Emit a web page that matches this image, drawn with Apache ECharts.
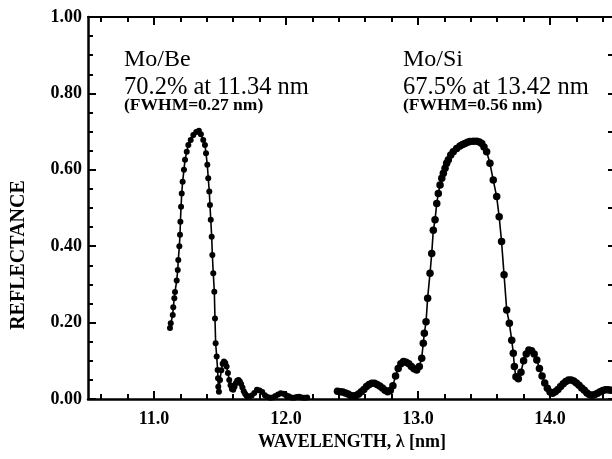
<!DOCTYPE html>
<html>
<head>
<meta charset="utf-8">
<script src="https://cdn.jsdelivr.net/npm/echarts@6/dist/echarts.min.js"></script>
<style>
  html, body { margin: 0; padding: 0; background: #fff; }
  #chart { width: 612px; height: 459px; }
</style>
</head>
<body>
<div id="chart"></div>
<script>
// Measured reflectance of two multilayer mirrors (wavelength in nm, reflectance 0..1)
const moBeWavelength = [
  11.121, 11.127, 11.142, 11.146, 11.154, 11.159, 11.172, 11.180, 11.184, 11.192,
  11.197, 11.200, 11.205, 11.210, 11.217, 11.227, 11.235, 11.248, 11.260, 11.278,
  11.298, 11.320, 11.340, 11.355, 11.373, 11.386, 11.394, 11.404, 11.411, 11.419,
  11.424, 11.430, 11.437, 11.442, 11.449, 11.457, 11.462, 11.467, 11.475, 11.482,
  11.485, 11.487, 11.492, 11.500, 11.510, 11.520, 11.530, 11.540, 11.550, 11.560,
  11.570, 11.580, 11.590, 11.600, 11.610, 11.620, 11.630, 11.640, 11.650, 11.660,
  11.670, 11.680, 11.690, 11.700, 11.710, 11.720, 11.740, 11.760, 11.780, 11.800,
  11.820, 11.840, 11.860, 11.880, 11.900, 11.920, 11.940, 11.960, 11.980, 12.000,
  12.020, 12.040, 12.060, 12.080, 12.100, 12.120, 12.140, 12.160
];
const moBeReflectance = [
  0.186, 0.198, 0.220, 0.240, 0.264, 0.280, 0.310, 0.338, 0.364, 0.400,
  0.430, 0.464, 0.503, 0.538, 0.569, 0.600, 0.626, 0.647, 0.665, 0.678,
  0.691, 0.699, 0.702, 0.693, 0.678, 0.665, 0.643, 0.613, 0.578, 0.543,
  0.508, 0.469, 0.425, 0.377, 0.329, 0.281, 0.211, 0.146, 0.111, 0.076,
  0.054, 0.032, 0.019, 0.050, 0.075, 0.092, 0.098, 0.094, 0.085, 0.068,
  0.050, 0.036, 0.026, 0.024, 0.032, 0.041, 0.048, 0.050, 0.046, 0.039,
  0.030, 0.020, 0.014, 0.009, 0.006, 0.006, 0.009, 0.016, 0.024, 0.022,
  0.018, 0.010, 0.005, 0.003, 0.004, 0.008, 0.012, 0.015, 0.014, 0.010,
  0.007, 0.004, 0.003, 0.005, 0.006, 0.004, 0.003, 0.004
];

const moSiWavelength = [
  12.390, 12.410, 12.430, 12.450, 12.470, 12.490, 12.510, 12.530, 12.550, 12.570,
  12.590, 12.610, 12.630, 12.650, 12.670, 12.690, 12.710, 12.730, 12.750, 12.770,
  12.790, 12.810, 12.830, 12.850, 12.870, 12.890, 12.910, 12.930, 12.950, 12.970,
  12.990, 13.010, 13.028, 13.040, 13.048, 13.061, 13.073, 13.091, 13.104, 13.116,
  13.129, 13.142, 13.154, 13.167, 13.180, 13.192, 13.205, 13.217, 13.230, 13.248,
  13.267, 13.293, 13.318, 13.338, 13.356, 13.375, 13.394, 13.420, 13.445, 13.465,
  13.483, 13.500, 13.520, 13.545, 13.570, 13.596, 13.615, 13.633, 13.652, 13.672,
  13.692, 13.710, 13.722, 13.730, 13.742, 13.760, 13.780, 13.800, 13.820, 13.840,
  13.860, 13.880, 13.900, 13.920, 13.940, 13.960, 13.980, 14.000, 14.020, 14.040,
  14.060, 14.080, 14.100, 14.120, 14.140, 14.160, 14.180, 14.200, 14.220, 14.240,
  14.260, 14.280, 14.300, 14.320, 14.340, 14.360, 14.380, 14.400, 14.420, 14.440,
  14.460
];
const moSiReflectance = [
  0.020, 0.019, 0.018, 0.016, 0.013, 0.009, 0.008, 0.009, 0.013, 0.019,
  0.025, 0.033, 0.038, 0.041, 0.041, 0.038, 0.034, 0.029, 0.023, 0.019,
  0.022, 0.035, 0.060, 0.080, 0.092, 0.098, 0.096, 0.092, 0.085, 0.079,
  0.076, 0.085, 0.107, 0.146, 0.172, 0.202, 0.264, 0.329, 0.381, 0.442,
  0.469, 0.512, 0.538, 0.560, 0.578, 0.591, 0.604, 0.617, 0.626, 0.639,
  0.647, 0.656, 0.662, 0.666, 0.669, 0.672, 0.674, 0.675, 0.675, 0.673,
  0.669, 0.660, 0.647, 0.617, 0.573, 0.530, 0.477, 0.412, 0.325, 0.233,
  0.198, 0.154, 0.120, 0.085, 0.058, 0.053, 0.070, 0.100, 0.118, 0.128,
  0.126, 0.118, 0.102, 0.080, 0.060, 0.042, 0.028, 0.018, 0.015, 0.019,
  0.025, 0.033, 0.040, 0.046, 0.050, 0.050, 0.047, 0.042, 0.036, 0.029,
  0.023, 0.016, 0.011, 0.010, 0.012, 0.015, 0.019, 0.022, 0.024, 0.024,
  0.023
];

// Axis ticks and labels
const xMajorTicks = [11, 12, 13, 14];
const xMinorTicks = [10.6, 10.8, 11.2, 11.4, 11.6, 11.8, 12.2, 12.4, 12.6, 12.8,
                     13.2, 13.4, 13.6, 13.8, 14.2, 14.4];
const xTickLabels = ['11.0', '12.0', '13.0', '14.0'];
const yTickLabels = ['0.00', '0.20', '0.40', '0.60', '0.80', '1.00'];

const annotations = [
  { title: 'Mo/Be', peak: '70.2% at 11.34 nm', width: '(FWHM=0.27 nm)', left: 124 },
  { title: 'Mo/Si', peak: '67.5% at 13.42 nm', width: '(FWHM=0.56 nm)', left: 403 }
];

const zip = (xs, ys) => xs.map((x, i) => [x, ys[i]]);
const SERIF = '"Liberation Serif", "DejaVu Serif", serif';
const INK = '#000';
const X_MIN = 10.5, X_MAX = 14.5;

const chart = echarts.init(document.getElementById('chart'), null, { renderer: 'canvas' });

const tickStyle = { color: INK, width: 2 };

function xFrameAxis(position, ticks, len, withLine, withLabels) {
  return {
    type: 'value', position, min: X_MIN, max: X_MAX,
    axisLine: { show: withLine, lineStyle: { color: INK, width: position === 'bottom' ? 2.5 : 2 } },
    axisTick: { show: true, inside: true, length: len, customValues: ticks, lineStyle: tickStyle },
    axisLabel: withLabels ? {
      show: true, margin: 11, color: INK,
      fontFamily: SERIF, fontWeight: 'bold', fontSize: 18,
      customValues: xMajorTicks,
      formatter: v => xTickLabels[xMajorTicks.indexOf(Math.round(v))] || ''
    } : { show: false },
    splitLine: { show: false }
  };
}

const option = {
  backgroundColor: '#fff',
  animation: false,
  grid: { left: 88, top: 17, width: 528, height: 382, containLabel: false, outerBoundsMode: 'none' },
  xAxis: [
    Object.assign(xFrameAxis('bottom', xMajorTicks, 8, true, true), {
      name: 'WAVELENGTH, λ [nm]', nameLocation: 'middle', nameGap: 32,
      nameTextStyle: { color: INK, fontFamily: SERIF, fontWeight: 'bold', fontSize: 18 }
    }),
    xFrameAxis('bottom', xMinorTicks, 5, false, false),
    xFrameAxis('top', xMajorTicks, 8, true, false),
    xFrameAxis('top', xMinorTicks, 5, false, false)
  ],
  yAxis: [
    {
      type: 'value', position: 'left', min: 0, max: 1, interval: 0.2,
      axisLine: { show: true, lineStyle: { color: INK, width: 2.5 } },
      axisTick: { show: true, inside: true, length: 8, lineStyle: tickStyle },
      minorTick: { show: true, splitNumber: 4, length: 5, lineStyle: tickStyle },
      axisLabel: {
        show: true, margin: 6, color: INK,
        fontFamily: SERIF, fontWeight: 'bold', fontSize: 18,
        formatter: v => yTickLabels[Math.round(v * 5)]
      },
      splitLine: { show: false }
    },
    {
      // right frame, mostly beyond the canvas edge
      type: 'value', position: 'right', min: 0, max: 1, interval: 0.1,
      axisLine: { show: true, lineStyle: { color: INK, width: 2 } },
      axisTick: { show: true, inside: true, length: 8, lineStyle: tickStyle },
      axisLabel: { show: false }, splitLine: { show: false }
    }
  ],
  series: [
    {
      name: 'Mo/Be', type: 'line', xAxisIndex: 0, yAxisIndex: 0,
      data: zip(moBeWavelength, moBeReflectance),
      symbol: 'circle', symbolSize: 6, showAllSymbol: true,
      lineStyle: { color: INK, width: 1.6 },
      itemStyle: { color: INK, borderWidth: 0 }
    },
    {
      name: 'Mo/Si', type: 'line', xAxisIndex: 0, yAxisIndex: 0,
      data: zip(moSiWavelength, moSiReflectance),
      symbol: 'circle', symbolSize: 7.5, showAllSymbol: true,
      lineStyle: { color: INK, width: 1.6 },
      itemStyle: { color: INK, borderWidth: 0 }
    }
  ],
  graphic: [
    { type: 'text', x: 19, y: 255, rotation: Math.PI / 2,
      style: { text: 'REFLECTANCE', font: 'bold 20px ' + SERIF, fill: INK,
               align: 'center', verticalAlign: 'middle' } }
  ].concat(annotations.flatMap(a => [
    { type: 'text', left: a.left, top: 48,
      style: { text: a.title, font: '24px ' + SERIF, fill: INK } },
    { type: 'text', left: a.left, top: 75,
      style: { text: a.peak, font: '24.5px ' + SERIF, fill: INK } },
    { type: 'text', left: a.left, top: 96,
      style: { text: a.width, font: 'bold 17.5px ' + SERIF, fill: INK } }
  ]))
};

chart.setOption(option);
</script>
</body>
</html>
